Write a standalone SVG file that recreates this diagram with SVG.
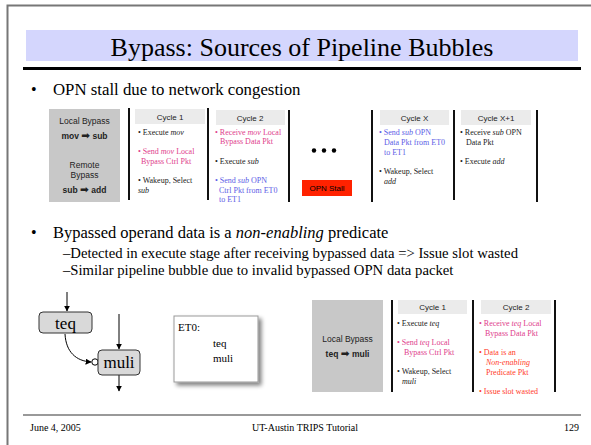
<svg xmlns="http://www.w3.org/2000/svg" width="591" height="445" viewBox="0 0 591 445">
<defs>
<marker id="ah" viewBox="0 0 10 10" refX="9" refY="5" markerWidth="6" markerHeight="6" orient="auto"><path d="M0,0 L10,5 L0,10 z" fill="#000"/></marker>
<filter id="sh" x="-10%" y="-10%" width="130%" height="130%"><feGaussianBlur in="SourceAlpha" stdDeviation="2"/><feOffset dx="3" dy="3"/><feComponentTransfer><feFuncA type="linear" slope="0.5"/></feComponentTransfer><feMerge><feMergeNode/><feMergeNode in="SourceGraphic"/></feMerge></filter>
</defs>
<style>
.serif{font-family:"Liberation Serif","Times New Roman",serif;fill:#000}
.sans{font-family:"Liberation Sans",Arial,sans-serif;fill:#000}
.cell{font-family:"Liberation Serif","Times New Roman",serif;font-size:8px;fill:#222}
.hdr{font-family:"Liberation Sans",Arial,sans-serif;font-size:8px;fill:#222;text-anchor:middle}
.hbox{fill:#ebebeb}
.vl{stroke:#111;stroke-width:2}
.pk{fill:#e0408c}
.bl{fill:#5c5ce6}
.rd{fill:#ff3a2a}
.gbox{fill:#c8c8c8}
.lbl{font-family:"Liberation Sans",Arial,sans-serif;font-size:8.5px;fill:#222;text-anchor:middle}
.b{font-weight:bold}
.arr{font-family:"DejaVu Sans",sans-serif;font-size:10.5px}
.node{fill:#d9d9d9;stroke:#333;stroke-width:1}
.conn{stroke:#000;stroke-width:1;fill:none}
</style>
<rect width="591" height="445" fill="#fff"/>
<path d="M7.5,445 V5.5 H591" fill="none" stroke="#777" stroke-width="2"/>
<rect x="26" y="30" width="552" height="31" fill="#d4d6fd"/>
<text class="serif" x="302" y="56" font-size="26" text-anchor="middle">Bypass: Sources of Pipeline Bubbles</text>
<rect x="23" y="67" width="558" height="3" fill="#000"/>

<text class="serif" x="31" y="95" font-size="16">•</text>
<text class="serif" x="53" y="95" font-size="16.8">OPN stall due to network congestion</text>

<g id="legend1">
<rect class="gbox" x="49" y="109" width="71" height="93"/>
<text class="lbl" x="84.5" y="124">Local Bypass</text>
<text class="lbl b" x="84.5" y="139">mov <tspan class="arr">➡</tspan> sub</text>
<text class="lbl" x="84.5" y="168">Remote</text>
<text class="lbl" x="84.5" y="178">Bypass</text>
<text class="lbl b" x="84.5" y="193">sub <tspan class="arr">➡</tspan> add</text>
</g>

<g id="table1-lines">
<line class="vl" x1="129" y1="108" x2="129" y2="200"/>
<line class="vl" x1="208" y1="108" x2="208" y2="200"/>
<line class="vl" x1="289" y1="110" x2="289" y2="202"/>
<line class="vl" x1="372" y1="110" x2="372" y2="202"/>
<line class="vl" x1="454" y1="110" x2="454" y2="200"/>
<line class="vl" x1="537" y1="110" x2="537" y2="202"/>
</g>

<g id="cycle1">
<rect class="hbox" x="135" y="109" width="70" height="15"/>
<text class="hdr" x="170" y="119.5">Cycle 1</text>
<text class="cell" x="138" y="135">• Execute <tspan font-style="italic">mov</tspan></text>
<text class="cell pk" x="138" y="154">• Send <tspan font-style="italic">mov</tspan> Local</text>
<text class="cell pk" x="141" y="164">Bypass Ctrl Pkt</text>
<text class="cell" x="138" y="183">• Wakeup, Select</text>
<text class="cell" x="138" y="193" font-style="italic">sub</text>
</g>

<g id="cycle2">
<rect class="hbox" x="216" y="110" width="69" height="15"/>
<text class="hdr" x="250" y="120.5">Cycle 2</text>
<text class="cell pk" x="215" y="135">• Receive <tspan font-style="italic">mov</tspan> Local</text>
<text class="cell pk" x="220" y="144">Bypass Data Pkt</text>
<text class="cell" x="215" y="164">• Execute <tspan font-style="italic">sub</tspan></text>
<text class="cell bl" x="215" y="183">• Send <tspan font-style="italic">sub</tspan> OPN</text>
<text class="cell bl" x="219" y="193">Ctrl Pkt from ET0</text>
<text class="cell bl" x="219" y="202">to ET1</text>
</g>

<g id="ellipsis">
<circle cx="314" cy="150.5" r="2.2" fill="#000"/>
<circle cx="324" cy="150.5" r="2.2" fill="#000"/>
<circle cx="334" cy="150.5" r="2.2" fill="#000"/>
</g>

<g id="opn-stall">
<rect x="302" y="180" width="50" height="16" fill="#ff2200"/>
<text class="hdr" x="327" y="191" style="fill:#000">OPN Stall</text>
</g>

<g id="cycleX">
<rect class="hbox" x="380" y="110" width="69" height="15"/>
<text class="hdr" x="414.5" y="120.5">Cycle X</text>
<text class="cell bl" x="379" y="135">• Send <tspan font-style="italic">sub</tspan> OPN</text>
<text class="cell bl" x="384" y="145">Data Pkt  from ET0</text>
<text class="cell bl" x="384" y="155">to ET1</text>
<text class="cell" x="379" y="174">• Wakeup, Select</text>
<text class="cell" x="384" y="184" font-style="italic">add</text>
</g>

<g id="cycleX1">
<rect class="hbox" x="461" y="110" width="70" height="15"/>
<text class="hdr" x="496" y="120.5">Cycle X+1</text>
<text class="cell" x="460" y="135">• Receive <tspan font-style="italic">sub</tspan> OPN</text>
<text class="cell" x="466" y="145">Data Pkt</text>
<text class="cell" x="460" y="164">• Execute <tspan font-style="italic">add</tspan></text>
</g>

<text class="serif" x="31" y="238" font-size="16">•</text>
<text class="serif" x="53" y="238" font-size="16.5">Bypassed operand data is a <tspan font-style="italic">non-enabling</tspan> predicate</text>
<text class="serif" x="63" y="258" font-size="14.7">–Detected in execute stage after receiving bypassed data =&gt; Issue slot wasted</text>
<text class="serif" x="63" y="275" font-size="14.7">–Similar pipeline bubble due to invalid bypassed OPN data packet</text>

<g id="connectors">
<line class="conn" x1="67" y1="292" x2="67" y2="311" marker-end="url(#ah)"/>
<line class="conn" x1="119" y1="314" x2="119" y2="349" marker-end="url(#ah)"/>
<line class="conn" x1="119" y1="375" x2="119" y2="391" marker-end="url(#ah)"/>
<path class="conn" d="M65,334 C66,352 76,361 91,362" marker-end="url(#ah)"/>
<circle cx="95" cy="362" r="3.2" fill="#fff" stroke="#000" stroke-width="1"/>
</g>

<g id="teq">
<rect class="node" x="39" y="312" width="53" height="21" rx="4"/>
<text class="serif" x="65.5" y="328.5" font-size="17" text-anchor="middle">teq</text>
</g>
<g id="muli">
<rect class="node" x="98" y="350" width="42" height="25" rx="4"/>
<text class="serif" x="119" y="368" font-size="17" text-anchor="middle">muli</text>
</g>

<g id="et0">
<rect x="174" y="316" width="84" height="66" fill="#fff" stroke="#999" stroke-width="1" filter="url(#sh)"/>
<text class="serif" x="178" y="331" font-size="11">ET0:</text>
<text class="serif" x="213" y="347" font-size="11">teq</text>
<text class="serif" x="213" y="362" font-size="11">muli</text>
</g>

<g id="legend2">
<rect class="gbox" x="312" y="300" width="71" height="92"/>
<text class="lbl" x="347.5" y="342">Local Bypass</text>
<text class="lbl b" x="347.5" y="357">teq <tspan class="arr">➡</tspan> muli</text>
</g>

<g id="table2-lines">
<line class="vl" x1="392" y1="300" x2="392" y2="392"/>
<line class="vl" x1="473" y1="300" x2="473" y2="392"/>
<line class="vl" x1="555" y1="300" x2="555" y2="392"/>
</g>

<g id="t2cycle1">
<rect class="hbox" x="398" y="300" width="69" height="14"/>
<text class="hdr" x="432.5" y="310">Cycle 1</text>
<text class="cell" x="397" y="326">• Execute <tspan font-style="italic">teq</tspan></text>
<text class="cell pk" x="397" y="345">• Send <tspan font-style="italic">teq</tspan> Local</text>
<text class="cell pk" x="404" y="355">Bypass Ctrl Pkt</text>
<text class="cell" x="397" y="374">• Wakeup, Select</text>
<text class="cell" x="402" y="384" font-style="italic">muli</text>
</g>

<g id="t2cycle2">
<rect class="hbox" x="481" y="300" width="70" height="14"/>
<text class="hdr" x="516" y="310">Cycle 2</text>
<text class="cell pk" x="479" y="326">• Receive <tspan font-style="italic">teq</tspan> Local</text>
<text class="cell pk" x="485" y="336">Bypass Data Pkt</text>
<text class="cell rd" x="479" y="355">•  Data is an</text>
<text class="cell rd" x="486" y="365" font-style="italic">Non-enabling</text>
<text class="cell rd" x="486" y="375">Predicate Pkt</text>
<text class="cell rd" x="479" y="394">• Issue slot wasted</text>
</g>

<line x1="23" y1="415" x2="581" y2="415" stroke="#777" stroke-width="1.5"/>
<text class="serif" x="30" y="431" font-size="10">June 4, 2005</text>
<text class="serif" x="305" y="431" font-size="10" text-anchor="middle">UT-Austin TRIPS Tutorial</text>
<text class="serif" x="579" y="431" font-size="10" text-anchor="end">129</text>
</svg>
